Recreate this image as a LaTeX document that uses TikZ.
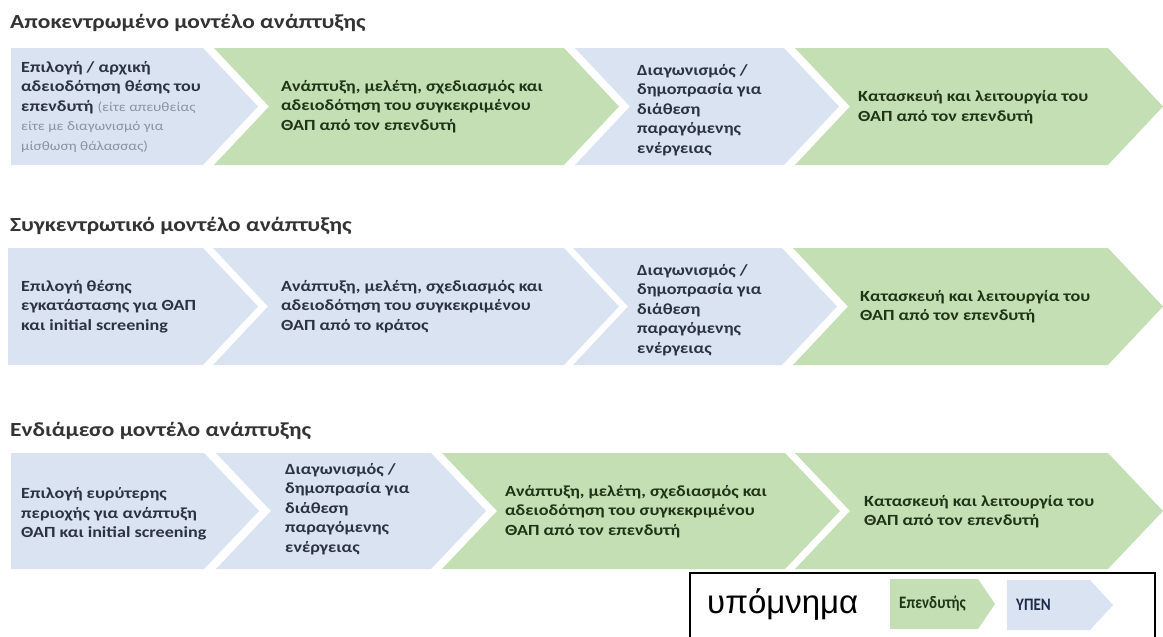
\documentclass[tikz,border=0pt]{standalone}
\usepackage{fontspec}
\setmainfont{Carlito}[FakeStretch=1.17]
\newfontfamily\legendafont{Liberation Sans}
\newfontfamily\estreitafont{Carlito}[FakeStretch=0.86]
\usepackage{tikz}

\definecolor{verde}{HTML}{C5DFB4}
\definecolor{azul}{HTML}{DAE3F2}
\definecolor{textoverde}{HTML}{1F3316}
\definecolor{textoazul}{HTML}{2B3340}
\definecolor{cinza}{HTML}{8993A2}
\definecolor{ypen}{HTML}{1C2B4A}

\newcommand\subtexto{\mdseries\color{cinza}\fontsize{13}{19.5}\selectfont}

\tikzset{
  every etapa/.style={font=\bfseries\fontsize{15.5}{19.5}\selectfont, align=left,
    anchor=west, inner sep=0pt},
  etapa verde/.style={text=textoverde},
  etapa azul/.style={text=textoazul},
  titulo/.style={font=\bfseries\fontsize{20}{24}\selectfont, text=black!80,
    anchor=base west, inner sep=0pt}
}

\begin{document}
\begin{tikzpicture}[x=1pt, y=-1pt]

\useasboundingbox (0,0) rectangle (1163,637);
\fill[white] (0,0) rectangle (1163,637);

% Definição das setas.

\foreach \xa/\xb/\c/\n in {11/203/azul/0, 214/564/verde/1, 575/784/azul/1, 795/1108/verde/1}
  \fill[\c] (\xa,48) -- (\xb,48) -- (\xb+55,106.5) -- (\xb,165) -- (\xa,165)
    -- (\xa+\n*55,106.5) -- cycle;

\foreach \xa/\xb/\c/\n in {8/203/azul/0, 213/564/azul/1, 573/782/azul/1, 793/1108/verde/1}
  \fill[\c] (\xa,248) -- (\xb,248) -- (\xb+55,306.5) -- (\xb,365) -- (\xa,365)
    -- (\xa+\n*55,306.5) -- cycle;

\foreach \xa/\xb/\c/\n in {11/204/azul/0, 216/431/azul/1, 442/785/verde/1, 795/1108/verde/1}
  \fill[\c] (\xa,453) -- (\xb,453) -- (\xb+55,511) -- (\xb,569) -- (\xa,569)
    -- (\xa+\n*55,511) -- cycle;

% Definição dos títulos.

\node[titulo] (tit-apo) at (10,28) {Αποκεντρωμένο μοντέλο ανάπτυξης};
\node[titulo] (tit-syg) at (10,231) {Συγκεντρωτικό μοντέλο ανάπτυξης};
\node[titulo] (tit-end) at (10,436) {Ενδιάμεσο μοντέλο ανάπτυξης};

% Definição dos textos.

\node[every etapa, etapa azul] (apo-1) at (21,107)
  {Επιλογή / αρχική\\αδειοδότηση θέσης του\\επενδυτή {\subtexto (είτε απευθείας}\\
   {\subtexto είτε με διαγωνισμό για}\\{\subtexto μίσθωση θάλασσας)}};
\node[every etapa, etapa verde] (apo-2) at (281,106.5)
  {Ανάπτυξη, μελέτη, σχεδιασμός και\\αδειοδότηση του συγκεκριμένου\\ΘΑΠ από τον επενδυτή};
\node[every etapa, etapa azul] (apo-3) at (637,110)
  {Διαγωνισμός /\\δημοπρασία για\\διάθεση\\παραγόμενης\\ενέργειας};
\node[every etapa, etapa verde] (apo-4) at (858,107)
  {Κατασκευή και λειτουργία του\\ΘΑΠ από τον επενδυτή};

\node[every etapa, etapa azul] (syg-1) at (21,306.5)
  {Επιλογή θέσης\\εγκατάστασης για ΘΑΠ\\και initial screening};
\node[every etapa, etapa azul] (syg-2) at (281,306.5)
  {Ανάπτυξη, μελέτη, σχεδιασμός και\\αδειοδότηση του συγκεκριμένου\\ΘΑΠ από το κράτος};
\node[every etapa, etapa azul] (syg-3) at (637,310)
  {Διαγωνισμός /\\δημοπρασία για\\διάθεση\\παραγόμενης\\ενέργειας};
\node[every etapa, etapa verde] (syg-4) at (860,306.5)
  {Κατασκευή και λειτουργία του\\ΘΑΠ από τον επενδυτή};

\node[every etapa, etapa azul] (end-1) at (21,514)
  {Επιλογή ευρύτερης\\περιοχής για ανάπτυξη\\ΘΑΠ και initial screening};
\node[every etapa, etapa azul] (end-2) at (285,509)
  {Διαγωνισμός /\\δημοπρασία για\\διάθεση\\παραγόμενης\\ενέργειας};
\node[every etapa, etapa verde] (end-3) at (505,511.5)
  {Ανάπτυξη, μελέτη, σχεδιασμός και\\αδειοδότηση του συγκεκριμένου\\ΘΑΠ από τον επενδυτή};
\node[every etapa, etapa verde] (end-4) at (864,511.5)
  {Κατασκευή και λειτουργία του\\ΘΑΠ από τον επενδυτή};

% Definição da legenda.

\draw[line width=1.5pt] (690,650) |- (1155,573) -- (1155,650);
\node[font=\legendafont\fontsize{33}{36}\selectfont, anchor=west, inner sep=0pt]
  (legenda) at (707,604) {υπόμνημα};
\fill[verde] (890,579) -- (978,579) -- (995,604) -- (978,629) -- (890,629) -- cycle;
\fill[azul] (1007,580) -- (1090,580) -- (1113,605) -- (1090,630) -- (1007,630) -- cycle;
\node[every etapa, etapa verde, font=\estreitafont\bfseries\fontsize{17.5}{19}\selectfont]
  (leg-inv) at (899,604) {Επενδυτής};
\node[every etapa, text=ypen, font=\estreitafont\bfseries\fontsize{17.5}{19}\selectfont]
  (leg-ypen) at (1016,605) {ΥΠΕΝ};

\end{tikzpicture}
\end{document}
